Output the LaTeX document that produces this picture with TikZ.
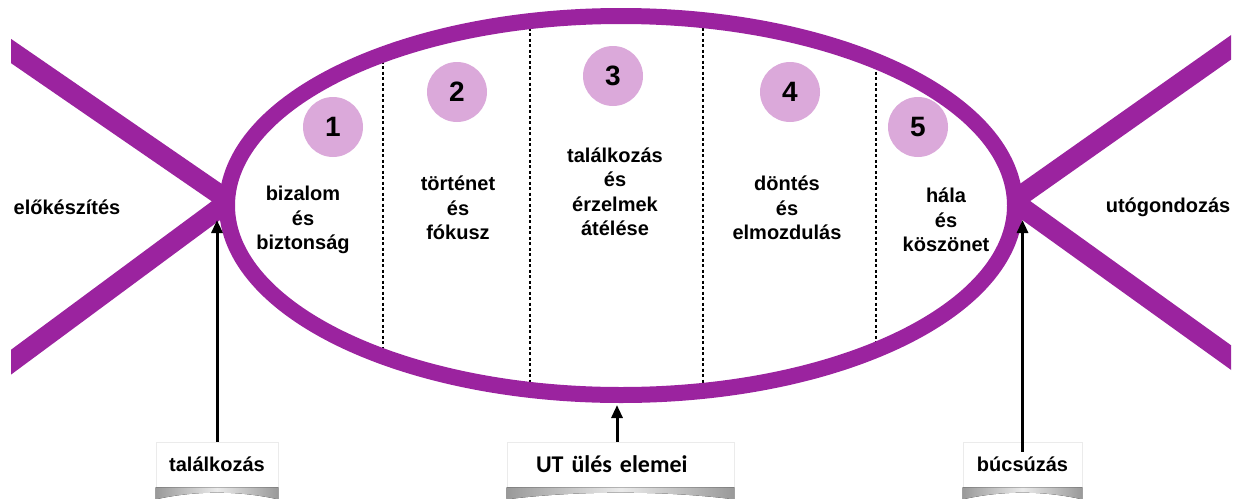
\documentclass[tikz,border=0pt]{standalone}
\usepackage{fontspec}
\setmainfont{Liberation Sans}
\newfontfamily\boxfont{Carlito}
\usepackage{tikz}
\usetikzlibrary{arrows.meta, shapes.geometric, calc}
\definecolor{fishpurple}{HTML}{9B239F}
\definecolor{stagefill}{HTML}{DBA9DA}

\begin{document}
\begin{tikzpicture}[
    x=1pt, y=-1pt,
    fishline/.style={line width=20pt, color=fishpurple, line join=bevel},
    stagenum/.style={circle, fill=stagefill, minimum size=60pt, inner sep=0pt, font=\fontsize{28}{28}\selectfont\bfseries},
    stagetext/.style={align=center, font=\fontsize{20}{24.5}\selectfont\bfseries},
    sidetext/.style={font=\fontsize{20}{24}\selectfont\bfseries},
    separator/.style={line width=2pt, dash pattern=on 3pt off 2.5pt},
    labelbox/.style={fill=white, draw=black!8, line width=0.8pt, minimum height=45pt, inner sep=0pt, font=\fontsize{20}{24}\selectfont\bfseries},
    shadowband/.style={left color=black!40, right color=black!40, middle color=black!8},
    pointer/.style={-{Triangle[length=13pt, width=11pt]}, line width=3pt},
]
\useasboundingbox (0,0) rectangle (1233,498);

% Fish tail and head
\begin{scope}
\clip (11,0) rectangle (1231,498);
\draw[fishline] (-5,40) -- (229,201) -- (-5,374);
\draw[fishline] (1240,41) -- (1013,201) -- (1240,364);
\end{scope}

% Separators
\begin{scope}
\clip (621,205.5) ellipse [x radius=394, y radius=189.5];
\draw[separator] (383,0) -- (383,420);
\draw[separator] (530,0) -- (530,420);
\draw[separator] (703,0) -- (703,420);
\draw[separator] (876,0) -- (876,420);
\end{scope}

% Body
\node[draw=fishpurple, line width=16pt, ellipse, minimum width=788pt, minimum height=379pt, inner sep=0pt] (body) at (621,205.5) {};

% Stages
\node[stagenum] (num1) at (333,127) {1};
\node[stagenum] (num2) at (457,92) {2};
\node[stagenum] (num3) at (613,76) {3};
\node[stagenum] (num4) at (790,92) {4};
\node[stagenum] (num5) at (918,127) {5};

\node[stagetext] (trust) at (303,220) {bizalom\\és\\biztonság};
\node[stagetext] (story) at (458,208) {történet\\és\\fókusz};
\node[stagetext] (feel) at (615,192) {találkozás\\és\\érzelmek\\átélése};
\node[stagetext] (move) at (787,208) {döntés\\és\\elmozdulás};
\node[stagetext] (thanks) at (946,220) {hála\\és\\köszönet};

\node[sidetext] (prep) at (67,207) {előkészítés};
\node[sidetext] (after) at (1168,207) {utógondozás};

% Bottom labels
\node[labelbox, minimum width=122pt] (meet) at (217,464.5) {találkozás};
\node[labelbox, font=\fontsize{24}{28}\selectfont\bfseries\boxfont, text width=169pt, align=left, inner xsep=29pt] (session) at (620.5,464.5) {UT ülés elemei};
\node[labelbox, minimum width=119pt] (farewell) at (1022.5,464.5) {búcsúzás};

\fill[shadowband] (meet.south west) -- (meet.south east) -- ++(0,12) .. controls +(-40,-9) and +(40,-9) .. ($(meet.south west)+(0,12)$) -- cycle;
\fill[shadowband] (session.south west) -- (session.south east) -- ++(0,12) .. controls +(-70,-9) and +(70,-9) .. ($(session.south west)+(0,12)$) -- cycle;
\fill[shadowband] (farewell.south west) -- (farewell.south east) -- ++(0,12) .. controls +(-40,-9) and +(40,-9) .. ($(farewell.south west)+(0,12)$) -- cycle;

% Arrows
\coordinate (meettip) at (217,220);
\coordinate (sessiontip) at (617,405);
\coordinate (farewelltip) at (1022.5,220);
\draw[pointer] (meet.north) -- (meettip);
\draw[pointer] (sessiontip |- session.north) -- (sessiontip);
\draw[pointer] ($(farewell.north)+(0,10)$) -- (farewelltip);

\end{tikzpicture}
\end{document}
